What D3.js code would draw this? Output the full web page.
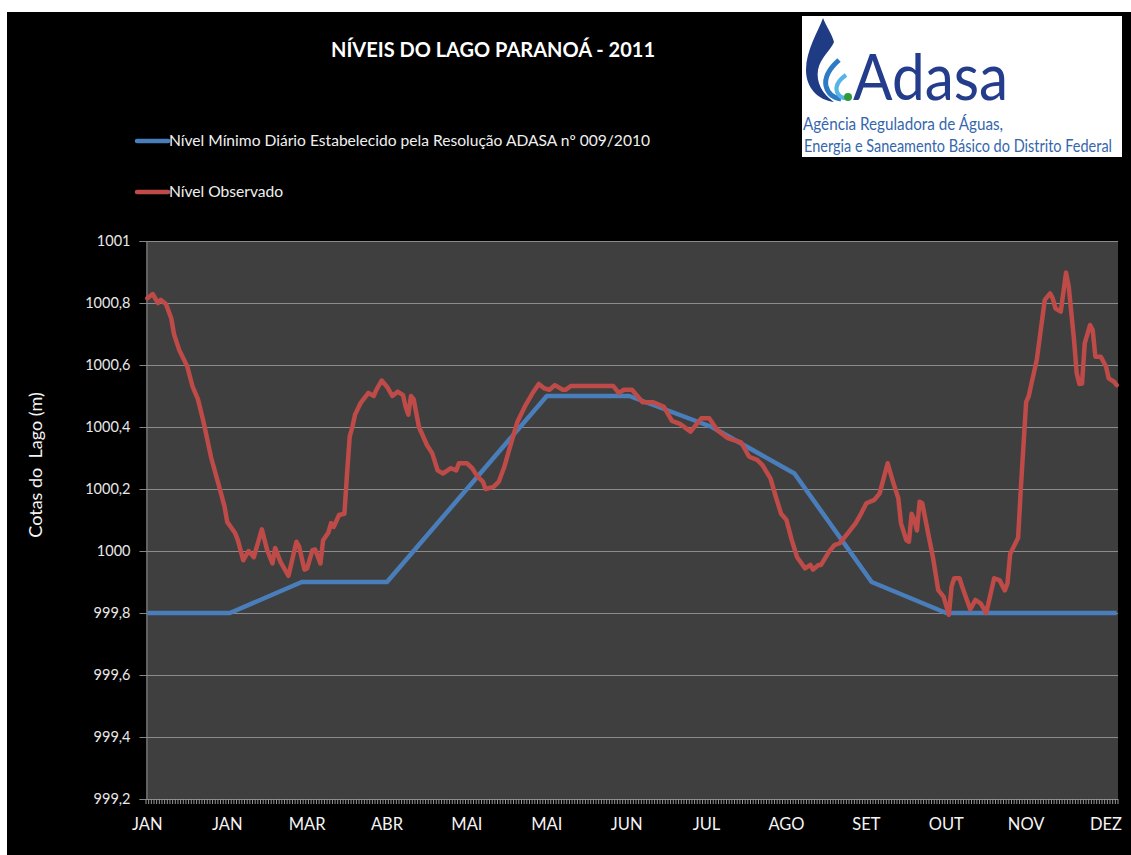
<!DOCTYPE html>
<html>
<head>
<meta charset="utf-8">
<script src="https://cdn.jsdelivr.net/npm/d3@7"></script>
<style>
    html, body { margin: 0; padding: 0; background: #fff; }
    svg { display: block; font-family: Lato, "Open Sans", sans-serif; }
</style>
</head>
<body>
<svg id="chart" width="1131" height="855"></svg>
<script>
// tick labels
const monthLabels = ['JAN', 'JAN', 'MAR', 'ABR', 'MAI', 'MAI', 'JUN', 'JUL', 'AGO', 'SET', 'OUT', 'NOV', 'DEZ'];
const labelDays   = [0, 30, 60, 90, 120, 150, 180, 210, 240, 270, 300, 330, 360];
const levelTicks  = [999.2, 999.4, 999.6, 999.8, 1000, 1000.2, 1000.4, 1000.6, 1000.8, 1001];

// Nível mínimo (resolução) - breakpoints by day of year
const minDays   = [0, 31, 58, 90, 150, 181, 212, 243, 272, 300, 364];
const minLevels = [999.8, 999.8, 999.9, 999.9, 1000.5, 1000.5, 1000.4, 1000.25, 999.9, 999.8, 999.8];

// Nível observado, day of year
const obsDays = [
    0, 2, 4, 5, 7, 9, 10, 12, 15, 17, 19, 21, 24, 27, 29, 30, 33, 34, 36, 38,
    40, 43, 45, 47, 48, 50, 53, 56, 57, 59, 60, 62, 63, 65, 66, 68, 69, 70, 72, 74,
    75, 76, 77, 78, 80, 83, 85, 86, 88, 90, 92, 94, 96, 97, 98, 99, 100, 102, 105, 107,
    109, 111, 114, 116, 117, 120, 122, 124, 126, 127, 130, 132, 134, 136, 139, 142, 145, 147, 149, 151,
    153, 156, 157, 159, 175, 177, 179, 182, 186, 190, 194, 197, 200, 204, 208, 211, 214, 218, 223, 226,
    229, 231, 234, 236, 238, 240, 242, 244, 247, 249, 250, 252, 253, 256, 258, 260, 263, 266, 268, 270,
    273, 275, 278, 280, 282, 283, 285, 286, 287, 288, 289, 290, 291, 293, 295, 297, 299, 301, 302, 303,
    305, 306, 309, 311, 313, 315, 318, 320, 322, 323, 324, 327, 328, 330, 331, 332, 334, 337, 339, 340,
    341, 343, 345, 346, 348, 349, 350, 351, 352, 354, 355, 356, 358, 360, 361, 363, 364
];
const obsLevels = [
    1000.815, 1000.829, 1000.80, 1000.81, 1000.797, 1000.75, 1000.70, 1000.648, 1000.595, 1000.53,
    1000.49, 1000.42, 1000.30, 1000.207, 1000.143, 1000.094, 1000.057, 1000.035, 999.97, 1000.0,
    999.98, 1000.07, 1000.003, 999.96, 1000.01, 999.965, 999.92, 1000.03, 1000.014, 999.94,
    999.944, 1000.003, 1000.005, 999.96, 1000.035, 1000.06, 1000.09, 1000.078, 1000.116, 1000.12,
    1000.25, 1000.37, 1000.40, 1000.44, 1000.476, 1000.51, 1000.50, 1000.52, 1000.55, 1000.53,
    1000.50, 1000.514, 1000.503, 1000.465, 1000.44, 1000.50, 1000.49, 1000.40, 1000.342, 1000.315,
    1000.26, 1000.25, 1000.267, 1000.26, 1000.283, 1000.283, 1000.267, 1000.24, 1000.224, 1000.20,
    1000.207, 1000.224, 1000.27, 1000.33, 1000.417, 1000.47, 1000.514, 1000.539, 1000.525, 1000.52,
    1000.535, 1000.52, 1000.52, 1000.532, 1000.532, 1000.51, 1000.52, 1000.52, 1000.48, 1000.48,
    1000.465, 1000.42, 1000.41, 1000.385, 1000.428, 1000.428, 1000.39, 1000.364, 1000.35, 1000.304,
    1000.294, 1000.277, 1000.234, 1000.175, 1000.12, 1000.10, 1000.035, 999.98, 999.944, 999.955,
    999.94, 999.955, 999.955, 999.998, 1000.019, 1000.025, 1000.057, 1000.09, 1000.12, 1000.154,
    1000.165, 1000.186, 1000.283, 1000.224, 1000.17, 1000.09, 1000.035, 1000.03, 1000.12, 1000.10,
    1000.066, 1000.159, 1000.154, 1000.066, 999.98, 999.874, 999.853, 999.794, 999.885, 999.912,
    999.912, 999.885, 999.812, 999.842, 999.83, 999.80, 999.912, 999.906, 999.873, 999.896,
    999.99, 1000.043, 1000.2, 1000.48, 1000.5, 1000.54, 1000.616, 1000.81, 1000.831, 1000.815,
    1000.783, 1000.772, 1000.898, 1000.853, 1000.68, 1000.573, 1000.539, 1000.54, 1000.67, 1000.729,
    1000.713, 1000.627, 1000.627, 1000.595, 1000.557, 1000.546, 1000.535
];

const nDays = 365;
const plot = { left: 146, right: 1118, top: 241, bottom: 799 };

const svg = d3.select('#chart');

// black chart area
svg.append('rect')
    .attr('x', 7).attr('y', 12)
    .attr('width', 1131 - 7).attr('height', 855 - 12)
    .attr('fill', '#000');

const x = d3.scaleLinear()
    .domain([-0.5, nDays - 0.5])
    .range([plot.left, plot.right]);

const y = d3.scaleLinear()
    .domain([999.2, 1001])
    .range([plot.bottom, plot.top]);

// plot background
svg.append('rect')
    .attr('x', plot.left).attr('y', plot.top)
    .attr('width', plot.right - plot.left).attr('height', plot.bottom - plot.top)
    .attr('fill', '#3f3f3f');

// gridlines
svg.append('g')
    .selectAll('line')
    .data(levelTicks.filter(d => d > 999.2))
    .enter()
    .append('line')
    .attr('x1', plot.left).attr('x2', plot.right)
    .attr('y1', d => Math.round(y(d)) + 0.5)
    .attr('y2', d => Math.round(y(d)) + 0.5)
    .attr('stroke', '#8c8c8c')
    .attr('stroke-width', 1);

// y axis
const yAxis = svg.append('g')
    .attr('transform', `translate(${plot.left + 0.5},0)`)
    .call(d3.axisLeft(y)
        .tickValues(levelTicks)
        .tickSize(7)
        .tickPadding(9)
        .tickFormat(d => d3.format('.1~f')(d).replace('.', ',')));
yAxis.select('.domain').attr('stroke', '#868686');
yAxis.selectAll('.tick line').attr('stroke', '#868686');
yAxis.selectAll('.tick text')
    .attr('fill', '#e8e8e8')
    .style('font-size', '14.5px')
    .style('font-family', 'Lato, sans-serif');

// x axis: one small tick per day
const xAxisG = svg.append('g');
xAxisG.append('line')
    .attr('x1', plot.left).attr('x2', plot.right)
    .attr('y1', plot.bottom + 0.5).attr('y2', plot.bottom + 0.5)
    .attr('stroke', '#868686');
xAxisG.selectAll('line.day')
    .data(d3.range(nDays + 1))
    .enter()
    .append('line')
    .classed('day', true)
    .attr('x1', d => x(d - 0.5)).attr('x2', d => x(d - 0.5))
    .attr('y1', plot.bottom).attr('y2', plot.bottom + 5)
    .attr('stroke', '#9a9a9a')
    .attr('stroke-width', 1);
xAxisG.selectAll('text')
    .data(labelDays)
    .enter()
    .append('text')
    .attr('x', d => x(d))
    .attr('y', 830)
    .attr('text-anchor', 'middle')
    .attr('fill', '#f4f4f4')
    .style('font-size', '16.5px')
    .text((d, i) => monthLabels[i]);

// y axis title
svg.append('text')
    .attr('transform', 'translate(42,465) rotate(-90)')
    .attr('text-anchor', 'middle')
    .attr('fill', '#f4f4f4')
    .style('font-size', '18px')
    .style('white-space', 'pre')
    .text('Cotas do  Lago (m)');

// lines
const minLine = d3.line()
    .x((d, i) => x(minDays[i]))
    .y(d => y(d));
const obsLine = d3.line()
    .x((d, i) => x(obsDays[i]))
    .y(d => y(d));

svg.append('path')
    .datum(minLevels)
    .attr('d', minLine)
    .attr('fill', 'none')
    .attr('stroke', '#4a7ebb')
    .attr('stroke-width', 4.5)
    .attr('stroke-linejoin', 'round');

svg.append('path')
    .datum(obsLevels)
    .attr('d', obsLine)
    .attr('fill', 'none')
    .attr('stroke', '#be4b48')
    .attr('stroke-width', 4.5)
    .attr('stroke-linejoin', 'round')
    .attr('stroke-linecap', 'round');

// title
svg.append('text')
    .attr('x', 493).attr('y', 57)
    .attr('text-anchor', 'middle')
    .attr('fill', '#fff')
    .style('font-size', '20px')
    .style('font-weight', 'bold')
    .text('NÍVEIS DO LAGO PARANOÁ - 2011');

// legend
const legendItems = [
    { name: 'Nível Mínimo Diário Estabelecido pela Resolução ADASA nº 009/2010', color: '#4a7ebb', y: 141 },
    { name: 'Nível Observado', color: '#be4b48', y: 192 }
];
const legend = svg.append('g')
    .selectAll('g')
    .data(legendItems)
    .enter()
    .append('g');
legend.append('line')
    .attr('x1', 137).attr('x2', 168)
    .attr('y1', d => d.y).attr('y2', d => d.y)
    .attr('stroke', d => d.color)
    .attr('stroke-width', 4.5)
    .attr('stroke-linecap', 'round');
legend.append('text')
    .attr('x', 169)
    .attr('y', d => d.y + 5)
    .attr('fill', '#f0f0f0')
    .style('font-size', '15.6px')
    .text(d => d.name);

// logo
const logo = svg.append('g');
logo.append('rect')
    .attr('x', 802).attr('y', 16)
    .attr('width', 320).attr('height', 141)
    .attr('fill', '#fff');
logo.append('path')
    .attr('d', 'M823,18 C818,32 806,50 806,70 C806,88 818,100 834,102 C822,94 816,82 818,70 C820,58 831,50 834,42 C832,34 826,26 823,18 Z')
    .attr('fill', '#1f3b84');
logo.append('path')
    .attr('d', 'M839,60 C830,68 824,76 826,86 C828,94 834,98 841,99')
    .attr('fill', 'none')
    .attr('stroke', '#2c7bc4')
    .attr('stroke-width', 5);
logo.append('path')
    .attr('d', 'M846,75 C839,80 835,86 837,92 C839,96 842,98 845,98')
    .attr('fill', 'none')
    .attr('stroke', '#56b4e6')
    .attr('stroke-width', 4);
logo.append('circle')
    .attr('cx', 848).attr('cy', 97).attr('r', 4)
    .attr('fill', '#2e9a3e');
logo.append('text')
    .attr('x', 853).attr('y', 100)
    .attr('fill', '#233d8c')
    .attr('textLength', 155)
    .attr('lengthAdjust', 'spacingAndGlyphs')
    .style('font-size', '64px')
    .text('Adasa');
logo.append('text')
    .attr('x', 803).attr('y', 130)
    .attr('fill', '#3566ad')
    .attr('textLength', 200)
    .attr('lengthAdjust', 'spacingAndGlyphs')
    .style('font-size', '18px')
    .text('Agência Reguladora de Águas,');
logo.append('text')
    .attr('x', 804).attr('y', 152)
    .attr('fill', '#3566ad')
    .attr('textLength', 308)
    .attr('lengthAdjust', 'spacingAndGlyphs')
    .style('font-size', '17.5px')
    .text('Energia e Saneamento Básico do Distrito Federal');
</script>
</body>
</html>
